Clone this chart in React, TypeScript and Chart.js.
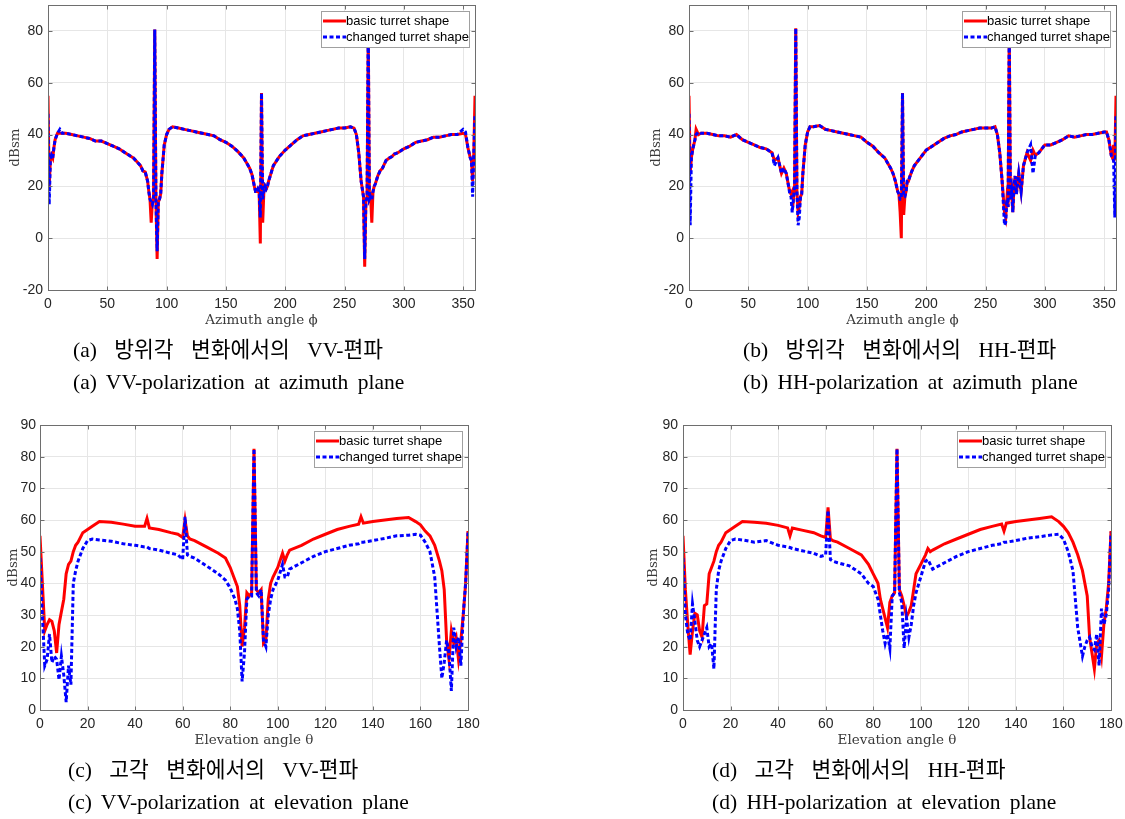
import React, { useEffect, useRef } from 'react';
import { Chart, registerables } from 'chart.js';

Chart.register(...registerables);

// ---------- Azimuth plane (shared angle grid for panels a and b) ----------
const azAngles = [
  0, 1, 2, 3, 4, 5, 6, 8, 10, 12,
  15, 20, 25, 30, 35, 40, 45, 50, 55, 60,
  65, 70, 72, 75, 78, 80, 82, 84, 85, 86,
  87, 88, 89, 90, 91, 92, 93, 94, 95, 96,
  98, 100, 102, 105, 110, 115, 120, 125, 130, 135,
  140, 145, 150, 155, 160, 165, 170, 172, 174, 175,
  176, 177, 178, 179, 180, 181, 182, 183, 184, 185,
  186, 188, 190, 195, 200, 205, 210, 215, 220, 225,
  230, 235, 240, 245, 250, 255, 258, 260, 262, 264,
  266, 267, 268, 269, 270, 271, 272, 273, 274, 275,
  276, 278, 280, 282, 285, 288, 290, 292, 295, 300,
  305, 310, 315, 320, 325, 330, 335, 340, 345, 350,
  352, 354, 356, 357, 358, 359, 360,
];

const vvAzBasic = [
  55, 20, 30, 32, 31, 35, 38, 40.5, 40.5, 40.5,
  40.5, 40, 39.5, 39, 38.5, 37.5, 37.5, 36.5, 35.5, 34.5,
  33, 31.5, 31, 29.5, 28, 26, 25.5, 22, 18, 15,
  6, 14, 15, 80.5, 15, -8, 14, 15, 17, 25,
  36, 40, 42, 43, 42.5, 42, 41.5, 41, 40.5, 40,
  39.5, 38, 37, 35.5, 33.5, 31, 27, 24.5, 20, 18,
  18, 19, 18, -2, 56, 6, 18, 20, 19, 20,
  22, 25, 28, 31.5, 34, 36, 38, 39.5, 40, 40.5,
  41, 41.5, 42, 42.5, 42.5, 43, 42.5, 40, 33, 22,
  16, -11, 14, 16, 80, 15, 16, 6, 18, 20,
  21, 24, 26, 27, 30, 31, 31.5, 32.5, 33, 34.5,
  35.5, 37, 37.5, 38, 39, 39, 39.5, 40, 40, 40.5,
  40, 35, 31, 30, 22, 33, 55,
];

const vvAzChanged = [
  48, 13, 30, 32, 31, 35, 38, 40.5, 42, 40.5,
  40.5, 40, 39.5, 39, 38.5, 37.5, 37.5, 36.5, 35.5, 34.5,
  33, 31.5, 31, 29.5, 28, 26, 25.5, 22, 18, 15,
  14, 13, 15, 80.5, 15, -5, 14, 15, 17, 25,
  36, 40, 42, 43, 42.5, 42, 41.5, 41, 40.5, 40,
  39.5, 38, 37, 35.5, 33.5, 31, 27, 24.5, 20, 18,
  18, 19, 18, 8, 56, 15, 18, 20, 19, 20,
  22, 25, 28, 31.5, 34, 36, 38, 39.5, 40, 40.5,
  41, 41.5, 42, 42.5, 42.5, 43, 42.5, 40, 33, 22,
  16, -8, 14, 16, 80, 15, 16, 15, 18, 20,
  21, 24, 26, 27, 30, 31, 31.5, 32.5, 33, 34.5,
  35.5, 37, 37.5, 38, 39, 39, 39.5, 40, 40, 42,
  41, 35, 31, 30, 16, 33, 48,
];

const hhAzBasic = [
  55, 25, 31, 34, 36, 38, 42, 40, 40.5, 40.5,
  40.5, 40, 39.5, 39.5, 39, 40, 38, 37, 36, 35,
  34.5, 33, 30, 31, 25, 27, 25, 20, 18, 17,
  18, 15, 20, 81, 18, 10, 12, 16, 17, 25,
  36, 41, 43, 43, 43.5, 42, 41.5, 41, 40.5, 40,
  39.5, 39, 37, 35.5, 33, 31, 27, 25, 22, 20,
  18, 17, 10, 0, 56, 9, 16, 18, 22, 22,
  23.5, 26, 28, 31, 34, 35.5, 37, 38.5, 39.5, 40,
  41, 41.5, 42, 42.5, 42.5, 42.5, 43, 40, 33, 22,
  10, 8, 15, 12, 80, 15, 18, 10, 20, 24,
  17, 25, 18, 28, 33, 30, 34, 32, 33, 36,
  36, 37, 38, 39.5, 39, 39.5, 40, 40, 40.5, 41,
  41, 38, 32, 31, 36, 30, 55,
];

const hhAzChanged = [
  48, 5, 31, 34, 36, 38, 40, 41, 40.5, 40.5,
  40.5, 40, 39.5, 39.5, 39, 40, 38, 37, 36, 35,
  34.5, 33, 28, 31, 25, 27, 25, 20, 17, 16,
  10, 15, 20, 81, 18, 5, 8, 16, 17, 25,
  36, 41, 43, 43, 43.5, 42, 41.5, 41, 40.5, 40,
  39.5, 39, 37, 35.5, 33, 31, 27, 25, 22, 20,
  18, 17, 15, 15, 56, 16, 16, 18, 22, 22,
  23.5, 26, 28, 31, 34, 35.5, 37, 38.5, 39.5, 40,
  41, 41.5, 42, 42.5, 42.5, 42.5, 43, 40, 33, 22,
  5, 6, 15, 12, 80, 15, 18, 10, 20, 24,
  17, 25, 18, 28, 33, 36, 25, 32, 33, 36,
  36, 37, 38, 39.5, 39, 39.5, 40, 40, 40.5, 41,
  41, 38, 32, 31, 30, 8, 48,
];

// ---------- Elevation plane (shared angle grid for panels c and d) ----------
const elAngles = [
  0, 1, 2, 3, 4, 5, 6, 7, 8, 9,
  10, 11, 12, 13, 14, 15, 16, 18, 20, 22,
  25, 30, 35, 40, 44, 45, 46, 50, 55, 58,
  60, 61, 62, 63, 65, 70, 75, 78, 80, 82,
  83, 84, 85, 86, 87, 88, 89, 90, 91, 92,
  93, 94, 95, 96, 97, 98, 100, 102, 103, 104,
  105, 110, 115, 120, 125, 130, 134, 135, 136, 140,
  145, 150, 155, 158, 160, 162, 164, 166, 168, 169,
  170, 171, 172, 173, 174, 175, 176, 177, 178, 179,
  180,
];

const vvElBasic = [
  55, 40, 25, 27, 28.5, 28, 25, 18, 27, 31,
  35, 43, 46, 47, 50, 52, 53, 56, 57, 58,
  59.5, 59.3, 58.7, 58, 58, 60.5, 57.5, 57, 56, 55.5,
  54.5, 60, 55, 54, 53.5, 51.5, 49.5, 48, 45, 41,
  39, 33, 20, 26, 37, 36, 37, 82.5, 38, 37,
  38, 21, 22, 35, 40, 42, 45, 49.5, 47, 49,
  50.5, 52, 54, 55.5, 57, 58, 58.7, 61, 59, 59.5,
  60, 60.5, 60.8, 59.5, 58.5, 56.5, 55, 52, 47, 44,
  38, 22, 16, 25, 21, 23, 16, 22, 30, 40,
  56.5,
];

const vvElChanged = [
  48, 30, 14, 16, 24, 15, 17, 16, 9.5, 17,
  11, 2.5, 14, 8, 40, 44, 47, 51, 53.5, 54,
  53.7, 53.3, 52.5, 52, 51.5, 51.5, 51, 50.5, 49.5, 49,
  47.5, 61, 49, 48.5, 48, 45.5, 43, 41, 38.5, 35,
  32, 25, 9, 18, 35, 36, 36, 82.5, 37, 36,
  38, 22, 20, 30, 35, 38, 41, 46, 42, 42,
  44.5, 46.5, 48.5, 50, 51, 52, 52.5, 53, 53, 53.5,
  54.2, 55, 55.2, 55.5, 55.2, 53, 50, 42, 20, 10,
  15, 22, 18, 6, 26, 20, 23, 14, 30, 40,
  56,
];

const hhElBasic = [
  55, 38, 27, 17.5, 25, 30.5, 30, 25, 23, 33,
  33.5, 43, 45, 47, 50, 52, 53, 56, 57, 58,
  59.5, 59.3, 59, 58.3, 57.5, 55, 57.5, 56.8, 56, 55,
  54.5, 64, 54, 53.5, 53, 51, 49, 46, 43, 40,
  35, 32, 29, 26, 34, 36, 37, 82.5, 38, 36,
  33, 29.5, 31, 33, 38, 43, 46, 49, 51, 50,
  50.5, 52.5, 54, 55.5, 57, 58, 58.7, 56.5, 59, 59.5,
  60, 60.5, 61, 59.5, 58, 56, 53, 49, 44, 40,
  36, 23, 18, 13, 21, 22, 17, 27, 32, 40,
  56.5,
];

const hhElChanged = [
  48, 30, 24, 22, 33.5, 28, 22, 20, 22, 24,
  26, 20, 21, 13, 38, 44, 47, 51, 53.5, 54,
  53.7, 53, 53.5, 52, 51.5, 51.3, 51, 50.3, 49.5, 48.5,
  49, 63, 47.5, 47, 46.5, 45.5, 43, 40, 39, 35,
  30, 25, 21, 24, 19.5, 36, 37, 82.5, 37, 34,
  19.5, 29, 23, 27, 33, 37, 42, 47, 47.5, 46,
  44.5, 46.5, 48.5, 50, 51, 52, 52.5, 53, 53, 53.5,
  54.3, 54.7, 55.3, 55.5, 54, 50, 44, 26, 17, 20,
  22, 23, 20, 19, 24, 14, 32, 27, 30, 38,
  56,
];

const seriesLabels = ['basic turret shape', 'changed turret shape'];

type PanelSpec = {
  left: number;
  top: number;
  width: number;
  height: number;
  padTop: number;
  padRight: number;
  yAxisWidth: number;
  yTickPad: number;
  yTitlePadTop: number;
  xTitlePadBottom: number;
  xs: number[];
  basic: number[];
  changed: number[];
  xMax: number;
  xStep: number;
  yMin: number;
  yMax: number;
  yStep: number;
  xTitle: string;
};

const TICK_FONT = '"Liberation Sans", Arial, sans-serif';
const TITLE_FONT = '"DejaVu Serif", "Liberation Serif", serif';

const framePlugin = {
  id: 'frameLegend',
  afterDraw(chart: any) {
    const { ctx, chartArea: a, scales } = chart;
    const xs = scales.x;
    const ys = scales.y;
    const L = Math.round(a.left) + 0.5;
    const R = Math.round(a.right) + 0.5;
    const T = Math.round(a.top) + 0.5;
    const B = Math.round(a.bottom) + 0.5;
    ctx.save();
    ctx.strokeStyle = '#6e6e6e';
    ctx.lineWidth = 1;
    ctx.beginPath();
    xs.ticks.forEach((t: any) => {
      const px = Math.round(xs.getPixelForValue(t.value)) + 0.5;
      ctx.moveTo(px, B);
      ctx.lineTo(px, B - 4);
      ctx.moveTo(px, T);
      ctx.lineTo(px, T + 4);
    });
    ys.ticks.forEach((t: any) => {
      const py = Math.round(ys.getPixelForValue(t.value)) + 0.5;
      ctx.moveTo(L, py);
      ctx.lineTo(L + 4, py);
      ctx.moveTo(R, py);
      ctx.lineTo(R - 4, py);
    });
    ctx.stroke();
    ctx.strokeRect(L, T, R - L, B - T);

    // legend box (inside, top-right)
    const w = 148;
    const h = 36;
    const lx = Math.round(a.right - 6 - w);
    const ly = Math.round(a.top + 6);
    ctx.fillStyle = '#ffffff';
    ctx.fillRect(lx, ly, w, h);
    ctx.strokeStyle = '#a0a0a0';
    ctx.strokeRect(lx + 0.5, ly + 0.5, w, h);

    const rows = [
      { y: ly + 10, color: '#ff0000', dash: [] as number[] },
      { y: ly + 26, color: '#0000ff', dash: [4, 2.5] },
    ];
    rows.forEach((r, i) => {
      ctx.beginPath();
      ctx.setLineDash(r.dash);
      ctx.strokeStyle = r.color;
      ctx.lineWidth = 3;
      ctx.moveTo(lx + 2, r.y);
      ctx.lineTo(lx + 25, r.y);
      ctx.stroke();
      ctx.setLineDash([]);
      ctx.fillStyle = '#000000';
      ctx.font = '13px ' + TICK_FONT;
      ctx.textBaseline = 'middle';
      ctx.textAlign = 'left';
      ctx.fillText(seriesLabels[i], lx + 25, r.y + 0.5);
    });
    ctx.restore();
  },
};

function Panel({ spec }: { spec: PanelSpec }) {
  const ref = useRef<HTMLCanvasElement>(null);
  useEffect(() => {
    const s = spec;
    const chart = new Chart(ref.current as HTMLCanvasElement, {
      type: 'line',
      data: {
        datasets: [
          {
            label: seriesLabels[0],
            data: s.xs.map((x, i) => ({ x, y: s.basic[i] })),
            borderColor: '#ff0000',
            backgroundColor: '#ff0000',
            borderWidth: 3,
            pointRadius: 0,
            tension: 0,
            order: 1,
          },
          {
            label: seriesLabels[1],
            data: s.xs.map((x, i) => ({ x, y: s.changed[i] })),
            borderColor: '#0000ff',
            backgroundColor: '#0000ff',
            borderWidth: 3,
            borderDash: [4, 2.5],
            pointRadius: 0,
            tension: 0,
            order: 0,
          },
        ],
      },
      options: {
        responsive: false,
        maintainAspectRatio: false,
        animation: false,
        layout: { padding: { left: 0, right: s.padRight, top: s.padTop, bottom: 0 } },
        plugins: {
          legend: { display: false },
          tooltip: { enabled: false },
        },
        scales: {
          x: {
            type: 'linear',
            min: 0,
            max: s.xMax,
            ticks: {
              stepSize: s.xStep,
              includeBounds: false,
              padding: 6,
              maxRotation: 0,
              autoSkip: false,
              color: '#262626',
              font: { family: TICK_FONT, size: 14 },
            },
            grid: { color: '#e6e6e6', drawTicks: false },
            border: { display: false },
            title: {
              display: true,
              text: s.xTitle,
              color: '#3a3a3a',
              font: { family: TITLE_FONT, size: 13.5 },
              padding: { top: 0, bottom: s.xTitlePadBottom },
            },
            afterFit: (sc: any) => {
              sc.height = 45;
              sc.paddingLeft = 0;
              sc.paddingRight = 0;
              sc.paddingTop = 0;
              sc.paddingBottom = 0;
            },
          },
          y: {
            type: 'linear',
            min: s.yMin,
            max: s.yMax,
            ticks: {
              stepSize: s.yStep,
              includeBounds: false,
              padding: s.yTickPad,
              color: '#262626',
              font: { family: TICK_FONT, size: 14 },
            },
            grid: { color: '#e6e6e6', drawTicks: false },
            border: { display: false },
            title: {
              display: true,
              text: 'dBsm',
              color: '#3a3a3a',
              font: { family: TITLE_FONT, size: 13.5 },
              padding: { top: s.yTitlePadTop, bottom: 0 },
            },
            afterFit: (sc: any) => {
              sc.width = s.yAxisWidth;
              sc.paddingLeft = 0;
              sc.paddingRight = 0;
              sc.paddingTop = 0;
              sc.paddingBottom = 0;
            },
          },
        },
      } as any,
      plugins: [framePlugin],
    });
    return () => chart.destroy();
  }, [spec]);
  return (
    <canvas
      ref={ref}
      width={spec.width}
      height={spec.height}
      style={{
        position: 'absolute',
        left: spec.left,
        top: spec.top,
        width: spec.width,
        height: spec.height,
      }}
    />
  );
}

const panelA: PanelSpec = {
  left: 0, top: 0, width: 480, height: 335, padTop: 5, padRight: 5,
  yAxisWidth: 48, yTickPad: 5, yTitlePadTop: 7, xTitlePadBottom: 6,
  xs: azAngles, basic: vvAzBasic, changed: vvAzChanged,
  xMax: 360, xStep: 50, yMin: -20, yMax: 90, yStep: 20,
  xTitle: 'Azimuth angle ϕ',
};
const panelB: PanelSpec = {
  left: 641, top: 0, width: 484, height: 335, padTop: 5, padRight: 9,
  yAxisWidth: 48, yTickPad: 5, yTitlePadTop: 7.5, xTitlePadBottom: 6,
  xs: azAngles, basic: hhAzBasic, changed: hhAzChanged,
  xMax: 360, xStep: 50, yMin: -20, yMax: 90, yStep: 20,
  xTitle: 'Azimuth angle ϕ',
};
const panelC: PanelSpec = {
  left: 0, top: 410, width: 485, height: 345, padTop: 15, padRight: 17,
  yAxisWidth: 40, yTickPad: 4, yTitlePadTop: 5, xTitlePadBottom: 6.5,
  xs: elAngles, basic: vvElBasic, changed: vvElChanged,
  xMax: 180, xStep: 20, yMin: 0, yMax: 90, yStep: 10,
  xTitle: 'Elevation angle θ',
};
const panelD: PanelSpec = {
  left: 640, top: 410, width: 485, height: 345, padTop: 15, padRight: 14,
  yAxisWidth: 43, yTickPad: 5, yTitlePadTop: 5, xTitlePadBottom: 6.5,
  xs: elAngles, basic: hhElBasic, changed: hhElChanged,
  xMax: 180, xStep: 20, yMin: 0, yMax: 90, yStep: 10,
  xTitle: 'Elevation angle θ',
};

const captions = [
  { left: 73, top: 334, lines: ['(a) 방위각 변화에서의 VV-편파', '(a) VV-polarization at azimuth plane'] },
  { left: 743, top: 334, lines: ['(b) 방위각 변화에서의 HH-편파', '(b) HH-polarization at azimuth plane'] },
  { left: 68, top: 754, lines: ['(c) 고각 변화에서의 VV-편파', '(c) VV-polarization at elevation plane'] },
  { left: 712, top: 754, lines: ['(d) 고각 변화에서의 HH-편파', '(d) HH-polarization at elevation plane'] },
];

export default function App() {
  return (
    <div
      style={{
        position: 'absolute',
        left: 0,
        top: 0,
        width: 1125,
        height: 819,
        background: '#ffffff',
        overflow: 'hidden',
      }}
    >
      <Panel spec={panelA} />
      <Panel spec={panelB} />
      <Panel spec={panelC} />
      <Panel spec={panelD} />
      {captions.map((c, i) => (
        <div
          key={i}
          style={{
            position: 'absolute',
            left: c.left,
            top: c.top,
            fontFamily: '"Liberation Serif", "Noto Sans CJK KR", serif',
            fontSize: 21.5,
            lineHeight: '32px',
            color: '#000',
            whiteSpace: 'pre',
          }}
        >
          <div style={{ wordSpacing: 12 }}>{c.lines[0]}</div>
          <div style={{ wordSpacing: 4 }}>{c.lines[1]}</div>
        </div>
      ))}
    </div>
  );
}
